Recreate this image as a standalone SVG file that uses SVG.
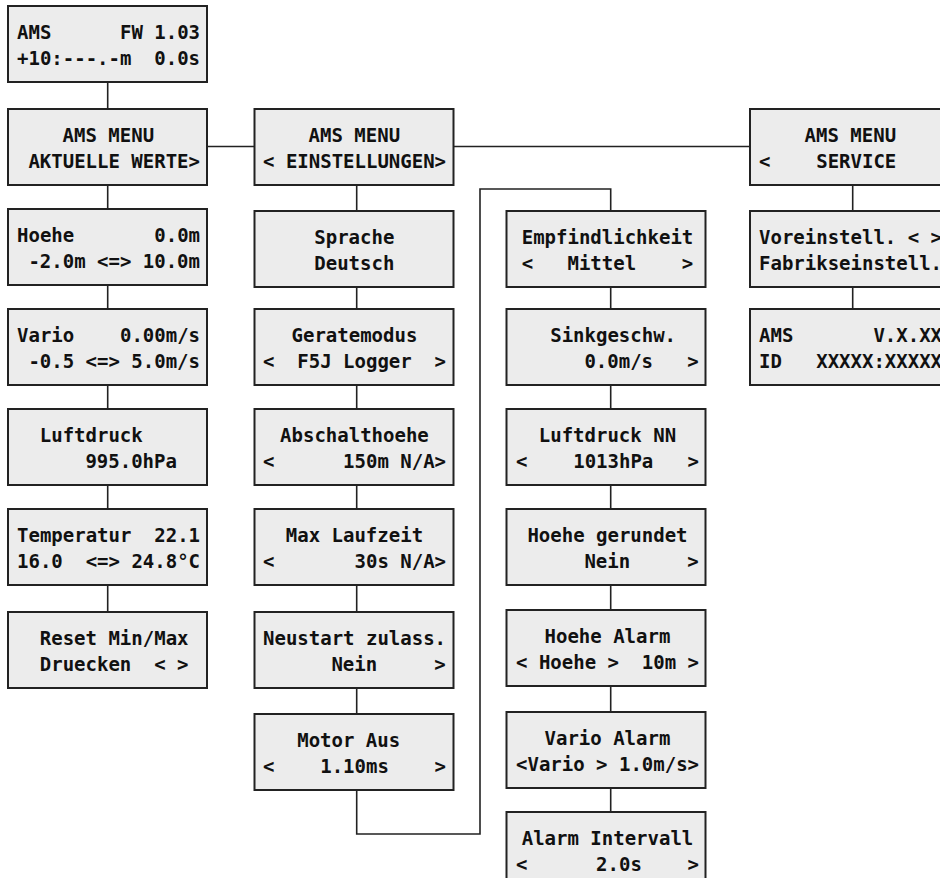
<svg xmlns="http://www.w3.org/2000/svg" width="940" height="878" viewBox="0 0 940 878">
<style>
.b{fill:#ececec;stroke:#222;stroke-width:2}
.c{fill:none;stroke:#222;stroke-width:1.6}
text{font-family:"DejaVu Sans Mono","Liberation Mono",monospace;font-size:19px;font-weight:bold;fill:#111;white-space:pre}
</style>
<rect width="940" height="878" fill="#fff"/>
<g id="connectors" class="c">
<path d="M107.7 82V109M107.7 185V209M107.7 285V309M107.7 385V409M107.7 485V509M107.7 585V612"/>
<path d="M356.7 185V211M356.7 287V309M356.7 385V409M356.7 485V509M356.7 585V612M356.7 688V714"/>
<path d="M610.7 287V309M610.7 385V409M610.7 485V509M610.7 585V610M610.7 686V712M610.7 788V812"/>
<path d="M852.7 185V211M852.7 287V309"/>
<path d="M207 146.5H254.5M453.5 146.5H750"/>
<path d="M356.7 790V834H480V189H610.7V211"/>
</g>
<g id="n-start"><rect class="b" x="8" y="6" width="199" height="76"/><text x="17" y="39" xml:space="preserve">AMS      FW 1.03</text><text x="17" y="65" xml:space="preserve">+10:---.-m  0.0s</text></g>
<g id="n-menu-aktuell"><rect class="b" x="8" y="109" width="199" height="76"/><text x="62.6" y="142" xml:space="preserve">AMS MENU</text><text x="28.4" y="168" xml:space="preserve">AKTUELLE WERTE&gt;</text></g>
<g id="n-hoehe"><rect class="b" x="8" y="209" width="199" height="76"/><text x="17" y="242" xml:space="preserve">Hoehe       0.0m</text><text x="28.4" y="268" xml:space="preserve">-2.0m &lt;=&gt; 10.0m</text></g>
<g id="n-vario"><rect class="b" x="8" y="309" width="199" height="76"/><text x="17" y="342" xml:space="preserve">Vario    0.00m/s</text><text x="28.4" y="368" xml:space="preserve">-0.5 &lt;=&gt; 5.0m/s</text></g>
<g id="n-luftdruck"><rect class="b" x="8" y="409" width="199" height="76"/><text x="39.8" y="442" xml:space="preserve">Luftdruck</text><text x="85.4" y="468" xml:space="preserve">995.0hPa</text></g>
<g id="n-temperatur"><rect class="b" x="8" y="509" width="199" height="76"/><text x="17" y="542" xml:space="preserve">Temperatur  22.1</text><text x="17" y="568" xml:space="preserve">16.0  &lt;=&gt; 24.8°C</text></g>
<g id="n-reset"><rect class="b" x="8" y="612" width="199" height="76"/><text x="39.8" y="645" xml:space="preserve">Reset Min/Max</text><text x="39.8" y="671" xml:space="preserve">Druecken  &lt; &gt;</text></g>

<g id="n-menu-einst"><rect class="b" x="254.5" y="109" width="199" height="76"/><text x="308.6" y="142" xml:space="preserve">AMS MENU</text><text x="263" y="168" xml:space="preserve">&lt; EINSTELLUNGEN&gt;</text></g>
<g id="n-sprache"><rect class="b" x="254.5" y="211" width="199" height="76"/><text x="314.3" y="244" xml:space="preserve">Sprache</text><text x="314.3" y="270" xml:space="preserve">Deutsch</text></g>
<g id="n-geratemodus"><rect class="b" x="254.5" y="309" width="199" height="76"/><text x="291.5" y="342" xml:space="preserve">Geratemodus</text><text x="263" y="368" xml:space="preserve">&lt;  F5J Logger  &gt;</text></g>
<g id="n-abschalthoehe"><rect class="b" x="254.5" y="409" width="199" height="76"/><text x="280.1" y="442" xml:space="preserve">Abschalthoehe</text><text x="263" y="468" xml:space="preserve">&lt;      150m N/A&gt;</text></g>
<g id="n-maxlaufzeit"><rect class="b" x="254.5" y="509" width="199" height="76"/><text x="285.8" y="542" xml:space="preserve">Max Laufzeit</text><text x="263" y="568" xml:space="preserve">&lt;       30s N/A&gt;</text></g>
<g id="n-neustart"><rect class="b" x="254.5" y="612" width="199" height="76"/><text x="263" y="645" xml:space="preserve">Neustart zulass.</text><text x="331.4" y="671" xml:space="preserve">Nein     &gt;</text></g>
<g id="n-motoraus"><rect class="b" x="254.5" y="714" width="199" height="76"/><text x="297.2" y="747" xml:space="preserve">Motor Aus</text><text x="263" y="773" xml:space="preserve">&lt;    1.10ms    &gt;</text></g>

<g id="n-empfindlichkeit"><rect class="b" x="506.5" y="211" width="199" height="76"/><text x="521.7" y="244" xml:space="preserve">Empfindlichkeit</text><text x="521.7" y="270" xml:space="preserve">&lt;   Mittel    &gt;</text></g>
<g id="n-sinkgeschw"><rect class="b" x="506.5" y="309" width="199" height="76"/><text x="550.2" y="342" xml:space="preserve">Sinkgeschw.</text><text x="584.4" y="368" xml:space="preserve">0.0m/s   &gt;</text></g>
<g id="n-luftdrucknn"><rect class="b" x="506.5" y="409" width="199" height="76"/><text x="538.8" y="442" xml:space="preserve">Luftdruck NN</text><text x="516" y="468" xml:space="preserve">&lt;    1013hPa   &gt;</text></g>
<g id="n-hoehegerundet"><rect class="b" x="506.5" y="509" width="199" height="76"/><text x="527.4" y="542" xml:space="preserve">Hoehe gerundet</text><text x="584.4" y="568" xml:space="preserve">Nein     &gt;</text></g>
<g id="n-hoehealarm"><rect class="b" x="506.5" y="610" width="199" height="76"/><text x="544.5" y="643" xml:space="preserve">Hoehe Alarm</text><text x="516" y="669" xml:space="preserve">&lt; Hoehe &gt;  10m &gt;</text></g>
<g id="n-varioalarm"><rect class="b" x="506.5" y="712" width="199" height="76"/><text x="544.5" y="745" xml:space="preserve">Vario Alarm</text><text x="516" y="771" xml:space="preserve">&lt;Vario &gt; 1.0m/s&gt;</text></g>
<g id="n-alarmintervall"><rect class="b" x="506.5" y="812" width="199" height="76"/><text x="521.7" y="845" xml:space="preserve">Alarm Intervall</text><text x="516" y="871" xml:space="preserve">&lt;      2.0s    &gt;</text></g>

<g id="n-menu-service"><rect class="b" x="750" y="109" width="199" height="76"/><text x="804.6" y="142" xml:space="preserve">AMS MENU</text><text x="759" y="168" xml:space="preserve">&lt;    SERVICE</text></g>
<g id="n-voreinstell"><rect class="b" x="750" y="211" width="199" height="76"/><text x="759" y="244" xml:space="preserve">Voreinstell. &lt; &gt;</text><text x="759" y="270" xml:space="preserve">Fabrikseinstell.</text></g>
<g id="n-version"><rect class="b" x="750" y="309" width="199" height="76"/><text x="759" y="342" xml:space="preserve">AMS       V.X.XX</text><text x="759" y="368" xml:space="preserve">ID   XXXXX:XXXXX</text></g>
</svg>
